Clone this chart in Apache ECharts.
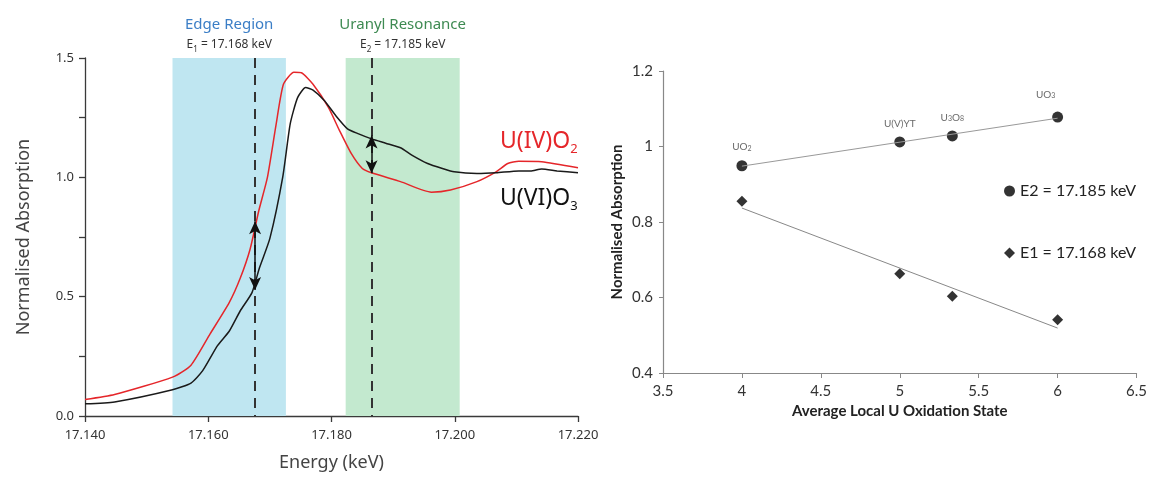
<!DOCTYPE html>
<html>
<head>
<meta charset="utf-8">
<script src="https://cdn.jsdelivr.net/npm/echarts@6/dist/echarts.min.js"></script>
<style>html,body{margin:0;padding:0;background:#fff;}#c{width:1150px;height:477px;}</style>
</head>
<body>
<div id="c"></div>
<script>
// ---------- Left panel: XANES spectra ----------
const redEnergy = [17.140,17.1448,17.1542,17.1572,17.1603,17.1634,17.1652,17.1668,17.1682,17.1696,17.1710,17.1722,17.1739,17.1751,17.1770,17.1795,17.1813,17.1832,17.1850,17.1865,17.1912,17.1962,17.1993,17.2036,17.2067,17.2086,17.2104,17.2141,17.2200];
const redAbs    = [0.069,0.090,0.163,0.213,0.344,0.475,0.578,0.700,0.860,1.000,1.220,1.390,1.440,1.438,1.390,1.293,1.196,1.100,1.037,1.019,0.982,0.938,0.947,0.982,1.023,1.058,1.067,1.065,1.040];
const blackEnergy = [17.140,17.1448,17.1542,17.1572,17.1591,17.1615,17.1634,17.1652,17.1671,17.1683,17.1700,17.1721,17.1733,17.1745,17.1758,17.1770,17.1789,17.1807,17.1826,17.1844,17.1865,17.1888,17.1912,17.1931,17.1956,17.1980,17.1999,17.2036,17.2067,17.2104,17.2123,17.2141,17.2166,17.2200];
const blackAbs    = [0.051,0.059,0.110,0.138,0.190,0.295,0.355,0.441,0.517,0.620,0.744,1.003,1.224,1.334,1.376,1.365,1.320,1.258,1.203,1.182,1.161,1.143,1.124,1.092,1.058,1.037,1.023,1.016,1.019,1.027,1.027,1.035,1.027,1.019];
const edgeBand = [17.1542, 17.1726];
const uranylBand = [17.1823, 17.2008];
const bandTop = 1.517;
const dashTop = 1.5;
const e1Line = 17.1676;
const e2Line = 17.1865;
const e1Arrow = [0.528, 0.816];
const e2Arrow = [1.017, 1.175];
const energyTicks = [17.140, 17.220, 0.020];

// ---------- Right panel: absorption vs oxidation state ----------
const oxState = [4, 5, 5.333, 6];
const compoundLabels = ['UO{s|2}', 'U(V)YT', 'U{s|3}O{s|8}', 'UO{s|3}'];
const e2Abs = [0.949, 1.012, 1.028, 1.078];
const e1Abs = [0.855, 0.663, 0.603, 0.541];
const fitX = [4, 6];
const e2Fit = [0.948, 1.075];
const e1Fit = [0.837, 0.519];

const zip = (a, b) => a.map((v, i) => [v, b[i]]);

const chart = echarts.init(document.getElementById('c'), null, {renderer: 'canvas'});
const leftFont = '"Noto Sans", "Open Sans", sans-serif';
const rightFont = 'Lato, "Open Sans", sans-serif';
const dashStyle = {type: [10, 7], color: '#333', width: 2};
const arrowStyle = {type: 'solid', color: '#111', width: 1.5};

const option = {
  animation: false,
  backgroundColor: '#ffffff',
  grid: [
    {left: 85, right: 572, top: 58, bottom: 57},
    {left: 663, right: 10, top: 71, bottom: 104}
  ],
  xAxis: [
    {
      gridIndex: 0, type: 'value', min: energyTicks[0], max: energyTicks[1], interval: energyTicks[2],
      axisLine: {lineStyle: {color: '#3a3a3a', width: 1.3}},
      axisTick: {length: 6, lineStyle: {color: '#3a3a3a', width: 1.3}},
      splitLine: {show: false},
      axisLabel: {color: '#333', fontSize: 13, fontFamily: leftFont, margin: 13,
        formatter: v => Number(v).toFixed(3)},
      name: 'Energy (keV)', nameLocation: 'middle', nameGap: 38,
      nameTextStyle: {color: '#444', fontSize: 18, fontFamily: leftFont}
    },
    {
      gridIndex: 1, type: 'value', min: 3.5, max: 6.5, interval: 0.5,
      axisLine: {lineStyle: {color: '#888', width: 1.2}},
      axisTick: {length: 5, lineStyle: {color: '#888'}},
      splitLine: {show: false},
      axisLabel: {color: '#333', fontSize: 15, fontFamily: rightFont, margin: 11},
      name: 'Average Local U Oxidation State', nameLocation: 'middle', nameGap: 31,
      nameTextStyle: {color: '#222', fontSize: 15, fontWeight: 'bold', fontFamily: rightFont}
    }
  ],
  yAxis: [
    {
      gridIndex: 0, type: 'value', min: 0, max: 1.5, interval: 0.25,
      axisLine: {show: true, lineStyle: {color: '#3a3a3a', width: 1.3}},
      axisTick: {show: true, length: 6, lineStyle: {color: '#3a3a3a', width: 1.3}},
      splitLine: {show: false},
      axisLabel: {color: '#333', fontSize: 13, fontFamily: leftFont, margin: 11,
        formatter: v => (Math.abs(v * 2 - Math.round(v * 2)) < 1e-6 ? Number(v).toFixed(1) : '')},
      name: 'Normalised Absorption', nameLocation: 'middle', nameGap: 52,
      nameTextStyle: {color: '#444', fontSize: 18, fontFamily: leftFont}
    },
    {
      gridIndex: 1, type: 'value', min: 0.4, max: 1.2, interval: 0.2,
      axisLine: {show: true, lineStyle: {color: '#888', width: 1.2}},
      axisTick: {show: true, length: 4, lineStyle: {color: '#888'}},
      splitLine: {show: false},
      axisLabel: {color: '#333', fontSize: 15, fontFamily: rightFont, margin: 10},
      name: 'Normalised Absorption', nameLocation: 'middle', nameGap: 38,
      nameTextStyle: {color: '#222', fontSize: 15, fontWeight: 'bold', fontFamily: rightFont}
    }
  ],
  legend: {
    orient: 'vertical', left: 999, top: 178, itemGap: 46,
    itemWidth: 11, itemHeight: 11, itemTextGap: 4,
    data: ['E2 = 17.185 keV', 'E1 = 17.168 keV'],
    textStyle: {color: '#222', fontSize: 16, fontFamily: rightFont}
  },
  series: [
    {
      name: 'U(IV)O2', type: 'line', xAxisIndex: 0, yAxisIndex: 0,
      data: zip(redEnergy, redAbs), showSymbol: false, smooth: 0.2, clip: false,
      lineStyle: {color: '#e5262a', width: 1.5}, z: 3,
      markArea: {
        silent: true,
        data: [
          [{xAxis: edgeBand[0], yAxis: 0, itemStyle: {color: '#bfe6f1'},
            label: {show: true, position: 'top', distance: 4, formatter: '{t|Edge Region}\n{e|E}{s|1}{e| = 17.168 keV}',
              rich: {
                t: {color: '#3b7ec6', fontSize: 15, fontFamily: leftFont, lineHeight: 22, align: 'center'},
                e: {color: '#333', fontSize: 12, fontFamily: leftFont, lineHeight: 18},
                s: {color: '#333', fontSize: 8, fontFamily: leftFont, lineHeight: 8, verticalAlign: 'bottom'}
              }}},
           {xAxis: edgeBand[1], yAxis: bandTop}],
          [{xAxis: uranylBand[0], yAxis: 0, itemStyle: {color: '#c3e9cf'},
            label: {show: true, position: 'top', distance: 4, formatter: '{t|Uranyl Resonance}\n{e|E}{s|2}{e| = 17.185 keV}',
              rich: {
                t: {color: '#3e8a52', fontSize: 15, fontFamily: leftFont, lineHeight: 22, align: 'center'},
                e: {color: '#333', fontSize: 12, fontFamily: leftFont, lineHeight: 18},
                s: {color: '#333', fontSize: 8, fontFamily: leftFont, lineHeight: 8, verticalAlign: 'bottom'}
              }}},
           {xAxis: uranylBand[1], yAxis: bandTop}]
        ]
      }
    },
    {
      name: 'U(VI)O3', type: 'line', xAxisIndex: 0, yAxisIndex: 0,
      data: zip(blackEnergy, blackAbs), showSymbol: false, smooth: 0.2, clip: false,
      lineStyle: {color: '#1a1a1a', width: 1.5}, z: 4,
      markLine: {
        silent: true, animation: false,
        label: {show: false},
        data: [
          [{coord: [e1Line, dashTop], symbol: 'none', lineStyle: dashStyle},
           {coord: [e1Line, 0], symbol: 'none'}],
          [{coord: [e2Line, dashTop], symbol: 'none', lineStyle: dashStyle},
           {coord: [e2Line, 0], symbol: 'none'}],
          [{coord: [e1Line, e1Arrow[0]], symbol: 'arrow', symbolSize: [9, 13], lineStyle: arrowStyle},
           {coord: [e1Line, e1Arrow[1]], symbol: 'arrow', symbolSize: [9, 13]}],
          [{coord: [e2Line, e2Arrow[0]], symbol: 'arrow', symbolSize: [9, 13], lineStyle: arrowStyle},
           {coord: [e2Line, e2Arrow[1]], symbol: 'arrow', symbolSize: [9, 13]}]
        ]
      }
    },
    {
      name: 'E2 fit', type: 'line', xAxisIndex: 1, yAxisIndex: 1,
      data: zip(fitX, e2Fit), showSymbol: false, silent: true,
      lineStyle: {color: '#999', width: 1}
    },
    {
      name: 'E1 fit', type: 'line', xAxisIndex: 1, yAxisIndex: 1,
      data: zip(fitX, e1Fit), showSymbol: false, silent: true,
      lineStyle: {color: '#888', width: 1}
    },
    {
      name: 'E2 = 17.185 keV', type: 'scatter', xAxisIndex: 1, yAxisIndex: 1,
      data: zip(oxState, e2Abs), symbol: 'circle', symbolSize: 11,
      itemStyle: {color: '#000'},
      label: {
        show: true, position: 'top', distance: 8,
        formatter: p => compoundLabels[p.dataIndex],
        color: '#444', fontSize: 10, fontFamily: rightFont,
        rich: {s: {fontSize: 7, color: '#444', fontFamily: rightFont, lineHeight: 7, verticalAlign: 'bottom'}}
      },
      labelLayout: p => (p.dataIndex === 3 ? {dx: -12, dy: -4} : {})
    },
    {
      name: 'E1 = 17.168 keV', type: 'scatter', xAxisIndex: 1, yAxisIndex: 1,
      data: zip(oxState, e1Abs), symbol: 'diamond', symbolSize: 11,
      itemStyle: {color: '#000'}
    }
  ],
  graphic: [
    {type: 'text', left: 500, top: 130, silent: true,
      style: {text: '{a|U(IV)O}{b|2}', rich: {
        a: {fill: '#e5262a', fontSize: 23, fontFamily: leftFont, lineHeight: 28},
        b: {fill: '#e5262a', fontSize: 13, fontFamily: leftFont, lineHeight: 13, verticalAlign: 'bottom'}}}},
    {type: 'text', left: 500, top: 187, silent: true,
      style: {text: '{a|U(VI)O}{b|3}', rich: {
        a: {fill: '#111', fontSize: 23, fontFamily: leftFont, lineHeight: 28},
        b: {fill: '#111', fontSize: 13, fontFamily: leftFont, lineHeight: 13, verticalAlign: 'bottom'}}}}
  ]
};
chart.setOption(option);
</script>
</body>
</html>
